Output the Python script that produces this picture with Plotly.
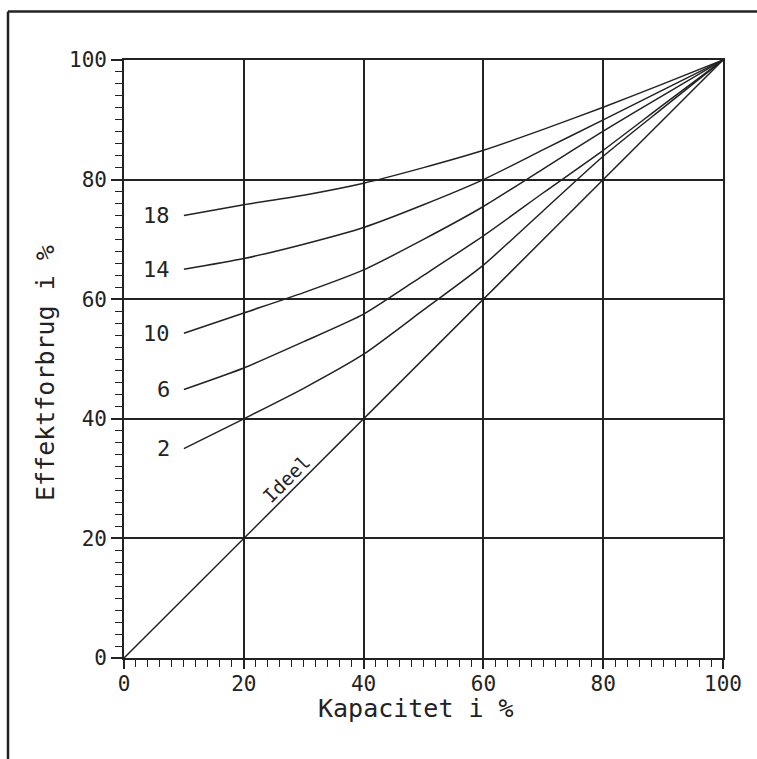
import plotly.graph_objects as go

# ---- data ----
kapacitet = [10, 20, 30, 40, 50, 60, 70, 80, 90, 100]
curve_labels = ["18", "14", "10", "6", "2"]
curve_18 = [74.0, 75.8, 77.4, 79.4, 82.0, 84.9, 88.4, 92.1, 96.0, 100]
curve_14 = [65.0, 66.8, 69.2, 72.0, 75.8, 80.0, 85.0, 90.0, 95.0, 100]
curve_10 = [54.3, 57.7, 61.1, 64.9, 70.0, 75.5, 81.8, 88.1, 94.1, 100]
curve_6 = [44.9, 48.5, 52.9, 57.5, 64.0, 70.6, 77.8, 84.9, 92.5, 100]
curve_2 = [35.0, 40.0, 45.1, 50.8, 58.2, 65.7, 74.8, 83.9, 92.0, 100]
ideal_x = [0, 100]
ideal_y = [0, 100]
tick_vals = [0, 20, 40, 60, 80, 100]
tick_text = ["0", "20", "40", "60", "80", "100"]

x_title = "Kapacitet i %"
y_title = "Effektforbrug i %"
ideal_label = "Ideel"

series = [curve_18, curve_14, curve_10, curve_6, curve_2]

# ---- layout geometry (pixels) ----
W, H = 757, 759
ML, MR, MT, MB = 124, 34, 60, 101
PW = W - ML - MR
PH = H - MT - MB


def px_to_paper_x(px):
    return (px - ML) / PW


def px_to_paper_y(py):
    return (H - MB - py) / PH


INK = "#222222"
FONT = "DejaVu Sans Mono"

fig = go.Figure()

for vals in series:
    fig.add_trace(go.Scatter(x=kapacitet, y=vals, mode="lines",
                             line=dict(color=INK, width=1.5, shape="spline", smoothing=0.6),
                             hoverinfo="skip", showlegend=False))

fig.add_trace(go.Scatter(x=ideal_x, y=ideal_y, mode="lines",
                         line=dict(color=INK, width=1.5),
                         hoverinfo="skip", showlegend=False))

annotations = []
for lab, vals in zip(curve_labels, series):
    annotations.append(dict(x=8.0, y=vals[0], xref="x", yref="y", text=lab,
                            showarrow=False, xanchor="right", yanchor="middle",
                            font=dict(family=FONT, size=22, color=INK)))

annotations.append(dict(x=27.1, y=29.9, xref="x", yref="y", text=ideal_label,
                        showarrow=False, textangle=-45,
                        font=dict(family=FONT, size=19, color=INK)))

annotations.append(dict(x=px_to_paper_x(416), y=px_to_paper_y(708), xref="paper", yref="paper",
                        text=x_title, showarrow=False, xanchor="center", yanchor="middle",
                        font=dict(family=FONT, size=25, color=INK)))
annotations.append(dict(x=px_to_paper_x(45), y=px_to_paper_y(373), xref="paper", yref="paper",
                        text=y_title, showarrow=False, textangle=-90,
                        xanchor="center", yanchor="middle",
                        font=dict(family=FONT, size=25, color=INK)))

shapes = [
    # outer frame: top and left only
    dict(type="line", xref="paper", yref="paper",
         x0=px_to_paper_x(8), x1=px_to_paper_x(757), y0=px_to_paper_y(11.5), y1=px_to_paper_y(11.5),
         line=dict(color=INK, width=2.5)),
    dict(type="line", xref="paper", yref="paper",
         x0=px_to_paper_x(8), x1=px_to_paper_x(8), y0=px_to_paper_y(11.5), y1=px_to_paper_y(759),
         line=dict(color=INK, width=2.5)),
]

axis_common = dict(
    range=[0, 100], tickmode="array", tickvals=tick_vals, ticktext=tick_text,
    showgrid=True, gridcolor=INK, gridwidth=1.6,
    showline=True, linecolor=INK, linewidth=1.6, mirror=True,
    zeroline=False, ticks="outside", tickwidth=1.5, tickcolor=INK,
    tickfont=dict(family=FONT, size=21, color=INK),
    minor=dict(dtick=2, tick0=0, ticks="outside", ticklen=7, tickwidth=1.2,
               tickcolor=INK, showgrid=False),
    fixedrange=True,
)

fig.update_layout(
    width=W, height=H,
    margin=dict(l=ML, r=MR, t=MT, b=MB, autoexpand=False),
    paper_bgcolor="white", plot_bgcolor="white",
    xaxis=dict(**axis_common, ticklen=9, ticklabelstandoff=-3),
    yaxis=dict(**axis_common, ticklen=11, ticklabelstandoff=0),
    annotations=annotations, shapes=shapes,
    showlegend=False,
)

fig.write_html("out.html", config={"displayModeBar": False})
